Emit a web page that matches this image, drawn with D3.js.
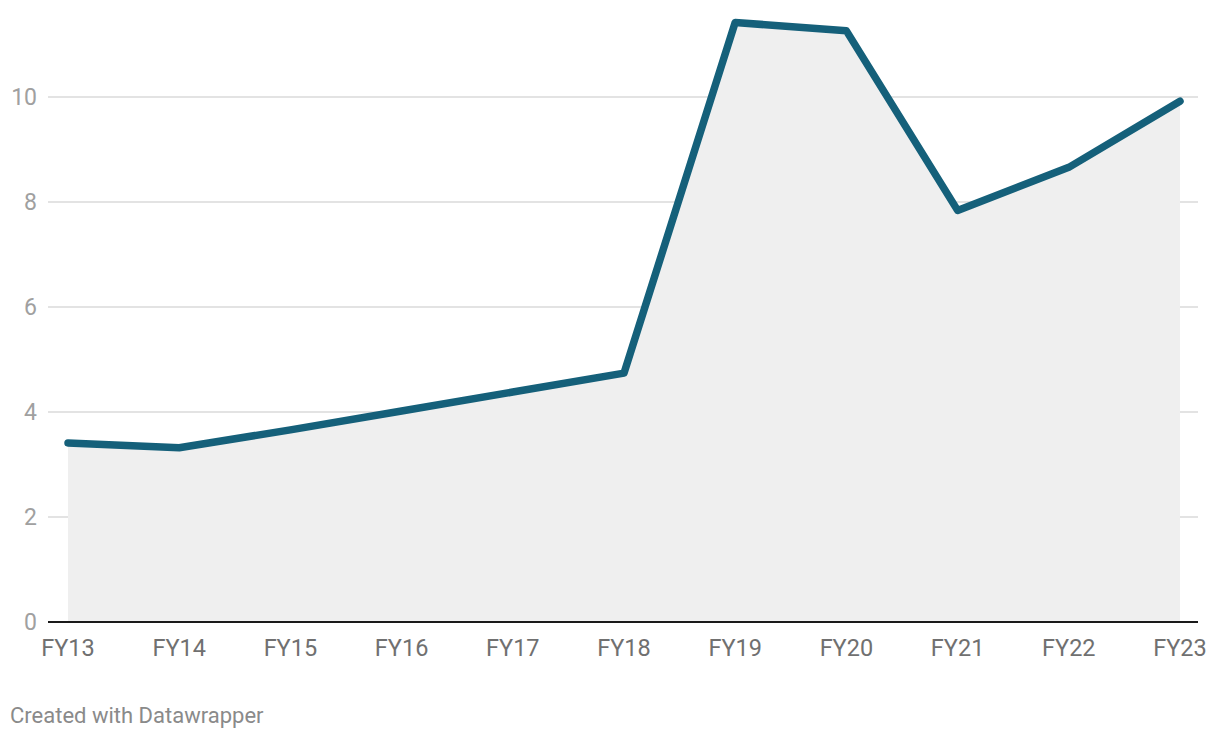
<!DOCTYPE html>
<html><head><meta charset="utf-8">
<script src="https://cdn.jsdelivr.net/npm/d3@7"></script>
<style>
html,body{margin:0;padding:0;background:#fff;}
svg{display:block;font-family:Roboto,"Noto Sans",sans-serif;}
</style></head>
<body>
<svg id="c" width="1220" height="738"></svg>
<script>
const categories = ["FY13","FY14","FY15","FY16","FY17","FY18","FY19","FY20","FY21","FY22","FY23"];
const values = [3.41, 3.32, 3.66, 4.02, 4.38, 4.74, 11.42, 11.26, 7.84, 8.66, 9.92];
const yTicks = [0, 2, 4, 6, 8, 10];
const footer = "Created with Datawrapper";

const svg = d3.select("#c");
const x = d3.scalePoint().domain(categories).range([68, 1180]);
const y = d3.scaleLinear().domain([0, 10]).range([622, 97]);
const data = categories.map((c, i) => ({c, v: values[i]}));

// gridlines
svg.append("g").selectAll("line").data(yTicks.filter(d => d !== 0)).join("line")
  .attr("x1", 48).attr("x2", 1198)
  .attr("y1", d => Math.round(y(d))).attr("y2", d => Math.round(y(d)))
  .attr("stroke", "#e3e3e3").attr("stroke-width", 2);

// y labels
svg.append("g").selectAll("text").data(yTicks).join("text")
  .attr("x", 37).attr("y", d => y(d)).attr("dy", "0.35em")
  .attr("text-anchor", "end").attr("font-size", 23).attr("fill", "#a0a0a0")
  .text(d => d);

// area
svg.append("path").datum(data)
  .attr("d", d3.area().x(d => x(d.c)).y0(y(0)).y1(d => y(d.v)))
  .attr("fill", "#efefef");

// axis baseline
svg.append("line").attr("x1", 48).attr("x2", 1198)
  .attr("y1", y(0)).attr("y2", y(0))
  .attr("stroke", "#1a1a1a").attr("stroke-width", 2);

// line
svg.append("path").datum(data)
  .attr("d", d3.line().x(d => x(d.c)).y(d => y(d.v)))
  .attr("fill", "none").attr("stroke", "#15607a").attr("stroke-width", 7.5)
  .attr("stroke-linejoin", "round").attr("stroke-linecap", "round");

// x labels
svg.append("g").selectAll("text").data(categories).join("text")
  .attr("x", d => x(d)).attr("y", 648).attr("dy", "0.35em")
  .attr("text-anchor", "middle").attr("font-size", 23.5).attr("fill", "#707070")
  .text(d => d);

svg.append("text").attr("x", 10).attr("y", 715).attr("dy", "0.35em")
  .attr("font-size", 22).attr("fill", "#8a8a8a").text(footer);
</script>
</body></html>
